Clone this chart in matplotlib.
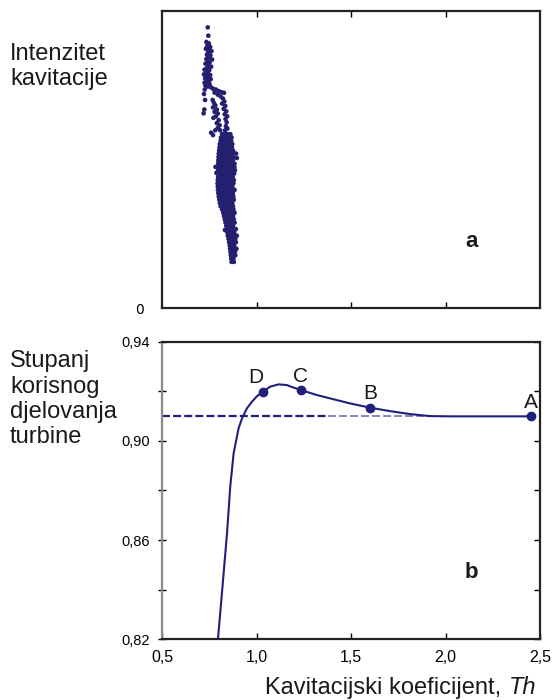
import matplotlib
matplotlib.use("Agg")
import matplotlib.pyplot as plt
import numpy as np

plt.rcParams['font.family'] = ['Liberation Sans', 'DejaVu Sans']

# --- panel a: cavitation intensity scatter ---
upper_x = [0.742, 0.745, 0.735, 0.748, 0.740, 0.755, 0.732, 0.750, 0.762, 0.744,
           0.738, 0.756, 0.748, 0.735, 0.765, 0.742, 0.752, 0.730, 0.746, 0.760,
           0.738, 0.725, 0.750, 0.735, 0.742, 0.722, 0.755, 0.732, 0.745, 0.728,
           0.758, 0.738, 0.748, 0.725, 0.736, 0.752, 0.730, 0.742, 0.760]
upper_y = [0.944, 0.916, 0.895, 0.890, 0.882, 0.878, 0.872, 0.868, 0.864, 0.860,
           0.852, 0.850, 0.843, 0.838, 0.836, 0.830, 0.826, 0.822, 0.818, 0.812,
           0.808, 0.802, 0.800, 0.795, 0.790, 0.786, 0.784, 0.780, 0.776, 0.772,
           0.770, 0.766, 0.762, 0.758, 0.754, 0.752, 0.748, 0.745, 0.742]

loop_x = [0.726, 0.722, 0.728, 0.724, 0.720,
          0.770, 0.785, 0.800, 0.815, 0.828, 0.778, 0.795, 0.810,
          0.822, 0.830, 0.818, 0.835, 0.826, 0.840, 0.832, 0.845, 0.836, 0.842,
          0.838, 0.846, 0.834,
          0.768, 0.775, 0.782, 0.770, 0.790, 0.778, 0.795, 0.786, 0.772, 0.800,
          0.790, 0.805, 0.795, 0.782, 0.760, 0.770, 0.808,
          0.783, 0.788, 0.892, 0.896, 0.833]
loop_y = [0.735, 0.720, 0.700, 0.668, 0.655,
          0.738, 0.735, 0.730, 0.726, 0.724, 0.725, 0.718, 0.712,
          0.705, 0.695, 0.688, 0.680, 0.670, 0.662, 0.652, 0.645, 0.636, 0.625,
          0.612, 0.604, 0.598,
          0.700, 0.690, 0.682, 0.675, 0.668, 0.660, 0.655, 0.645, 0.640, 0.632,
          0.622, 0.615, 0.606, 0.598, 0.590, 0.582, 0.598,
          0.475, 0.455, 0.520, 0.505, 0.263]

core_rows = [
    (0.585, [0.818, 0.828, 0.840, 0.852, 0.862]),
    (0.574, [0.812, 0.824, 0.836, 0.846, 0.858, 0.868]),
    (0.563, [0.810, 0.820, 0.832, 0.844, 0.855, 0.866]),
    (0.552, [0.806, 0.817, 0.829, 0.840, 0.851, 0.862, 0.872]),
    (0.541, [0.804, 0.815, 0.826, 0.838, 0.849, 0.860, 0.870]),
    (0.530, [0.802, 0.812, 0.824, 0.835, 0.846, 0.857, 0.868, 0.876]),
    (0.519, [0.800, 0.811, 0.822, 0.833, 0.844, 0.855, 0.866, 0.874]),
    (0.508, [0.799, 0.810, 0.821, 0.832, 0.843, 0.854, 0.865, 0.876]),
    (0.497, [0.798, 0.809, 0.820, 0.831, 0.842, 0.853, 0.864, 0.875]),
    (0.486, [0.797, 0.808, 0.819, 0.830, 0.841, 0.852, 0.863, 0.874, 0.884]),
    (0.475, [0.796, 0.807, 0.818, 0.829, 0.840, 0.851, 0.862, 0.873, 0.883]),
    (0.464, [0.797, 0.808, 0.819, 0.830, 0.841, 0.852, 0.863, 0.874, 0.886]),
    (0.453, [0.798, 0.809, 0.820, 0.831, 0.842, 0.853, 0.864, 0.875, 0.882]),
    (0.442, [0.797, 0.808, 0.819, 0.830, 0.841, 0.852, 0.863, 0.874]),
    (0.431, [0.795, 0.806, 0.817, 0.828, 0.839, 0.850, 0.861, 0.872, 0.880]),
    (0.420, [0.794, 0.805, 0.816, 0.827, 0.838, 0.849, 0.860, 0.871, 0.878]),
    (0.409, [0.795, 0.806, 0.817, 0.828, 0.839, 0.850, 0.861, 0.872]),
    (0.398, [0.796, 0.807, 0.818, 0.829, 0.840, 0.851, 0.862, 0.873, 0.884]),
    (0.387, [0.798, 0.809, 0.820, 0.831, 0.842, 0.853, 0.864, 0.875]),
    (0.376, [0.800, 0.811, 0.822, 0.833, 0.844, 0.855, 0.866, 0.877]),
    (0.365, [0.803, 0.814, 0.825, 0.836, 0.847, 0.858, 0.869, 0.880]),
    (0.354, [0.806, 0.817, 0.828, 0.839, 0.850, 0.861, 0.872]),
    (0.343, [0.810, 0.821, 0.832, 0.843, 0.854, 0.865, 0.876]),
    (0.332, [0.818, 0.830, 0.842, 0.854, 0.866, 0.878]),
    (0.321, [0.824, 0.836, 0.848, 0.860, 0.872, 0.884]),
    (0.310, [0.828, 0.840, 0.852, 0.864, 0.876]),
    (0.299, [0.832, 0.844, 0.856, 0.868, 0.880]),
    (0.288, [0.836, 0.848, 0.860, 0.872, 0.884]),
    (0.277, [0.840, 0.852, 0.864, 0.876]),
    (0.266, [0.843, 0.855, 0.867, 0.879, 0.891]),
    (0.255, [0.846, 0.858, 0.870, 0.882]),
    (0.244, [0.848, 0.860, 0.872, 0.884, 0.896]),
    (0.233, [0.852, 0.864, 0.876, 0.888]),
    (0.222, [0.855, 0.867, 0.879, 0.891]),
    (0.211, [0.858, 0.870, 0.882]),
    (0.200, [0.860, 0.872, 0.884, 0.894]),
    (0.189, [0.862, 0.874, 0.886]),
    (0.178, [0.864, 0.876, 0.888]),
    (0.167, [0.866, 0.878]),
    (0.156, [0.868, 0.880]),
]

# --- panel b: efficiency curve ---
curve_x = [0.796, 0.808, 0.826, 0.844, 0.861, 0.879, 0.893, 0.905, 0.923, 0.949,
           0.976, 1.002, 1.034, 1.073, 1.117, 1.161, 1.196, 1.235, 1.319, 1.407,
           1.496, 1.601, 1.707, 1.813, 1.919, 2.024, 2.451]
curve_y = [0.820, 0.8305, 0.8466, 0.8627, 0.8815, 0.8950, 0.9004, 0.9050, 0.9090, 0.9131,
           0.9158, 0.9180, 0.9198, 0.9219, 0.9228, 0.9225, 0.9215, 0.9205, 0.9185, 0.9168,
           0.9151, 0.9134, 0.9120, 0.9108, 0.9100, 0.9099, 0.9099]

point_labels = ['D', 'C', 'B', 'A']
point_x = [1.034, 1.235, 1.601, 2.451]
point_y = [0.9198, 0.9205, 0.9134, 0.9099]
ref_level = 0.91

x_ticks = [0.5, 1.0, 1.5, 2.0, 2.5]
x_ticklabels = ['0,5', '1,0', '1,5', '2,0', '2,5']
y_ticks = [0.82, 0.84, 0.86, 0.88, 0.90, 0.92, 0.94]
y_ticklabels = ['0,82', '', '0,86', '', '0,90', '', '0,94']

navy = '#1f1f7c'
dot_color = '#241f6e'
ink = '#1a1a1a'

fig = plt.figure(figsize=(5.58, 7.0), dpi=100)
W, H = 558.0, 700.0
ax_a = fig.add_axes([162 / W, 1 - 308.3 / H, 378 / W, 297.6 / H])
ax_b = fig.add_axes([162 / W, 1 - 639.3 / H, 378 / W, 297.6 / H])

# panel a
sx = list(upper_x) + list(loop_x)
sy = list(upper_y) + list(loop_y)
for yy, xs in core_rows:
    sx += xs
    sy += [yy] * len(xs)
ax_a.scatter(sx, sy, s=11, color=dot_color, edgecolors='none')
ax_a.set_xlim(0.5, 2.5)
ax_a.set_ylim(0, 1)
ax_a.set_xticks([1.0, 1.5, 2.0])
ax_a.set_xticklabels([])
ax_a.tick_params(axis='x', direction='in', top=True, bottom=True, length=4, width=1)
ax_a.set_yticks([0])
ax_a.set_yticklabels(['0'], fontsize=10, family=['DejaVu Sans'])
ax_a.tick_params(axis='y', length=0, pad=13)
for sp in ax_a.spines.values():
    sp.set_color('#222222')
    sp.set_linewidth(1.6)
fig.text(472 / W, 1 - 247 / H, 'a', fontsize=16, fontweight='bold', color=ink,
         ha='center', va='baseline')

# panel b
ax_b.plot([0.5, 1.38], [ref_level, ref_level], color=navy, lw=1.6, dashes=(3.6, 1.4))
ax_b.plot([1.38, 1.93], [ref_level, ref_level], color='#7d7bb8', lw=1.3, dashes=(4.4, 1.7))
ax_b.plot(curve_x, curve_y, color=navy, lw=1.5)
ax_b.plot(point_x, point_y, 'o', color=navy, ms=6, clip_on=False, zorder=5)
offsets = [(-5, 6), (0, 6), (0, 6), (0, 6)]
for lab, px, py, off in zip(point_labels, point_x, point_y, offsets):
    ax_b.annotate(lab, (px, py), xytext=off, textcoords='offset points',
                  ha='center', va='baseline', fontsize=15, color=ink)

ax_b.set_xlim(0.5, 2.5)
ax_b.set_ylim(0.82, 0.94)
ax_b.set_xticks(x_ticks)
ax_b.set_xticklabels(x_ticklabels, fontsize=11.5)
ax_b.tick_params(axis='x', direction='in', length=4, width=1, pad=8)
ax_b.set_yticks(y_ticks)
ax_b.set_yticklabels(y_ticklabels, fontsize=10.5)
ax_b.tick_params(axis='y', direction='inout', length=6, width=1, pad=6,
                 right=True, labelright=False)
for t in ax_b.yaxis.get_ticklines()[1::2]:
    t.set_marker(0)
    t.set_markersize(4)
for sp in ('top', 'bottom', 'right'):
    ax_b.spines[sp].set_color('#222222')
    ax_b.spines[sp].set_linewidth(1.6)
ax_b.spines['left'].set_color('#8a8a8a')
ax_b.spines['left'].set_linewidth(1.6)
fig.text(471 / W, 1 - 578 / H, 'b', fontsize=16, fontweight='bold', color=ink,
         ha='center', va='baseline')

# side labels (figure pixel coordinates, y measured from top)
side_lines = [('Intenzitet', 60), ('kavitacije', 85),
              ('Stupanj', 367), ('korisnog', 393), ('djelovanja', 418), ('turbine', 443)]
for txt, base in side_lines:
    fig.text(10 / W, 1 - base / H, txt, fontsize=17, color=ink,
             ha='left', va='baseline')

# x axis title: italic "Th" at the right, the rest placed just before it
th = fig.text(536 / W, 1 - 694 / H, 'Th', fontsize=17, style='italic',
              color=ink, ha='right', va='baseline')
fig.canvas.draw()
bb = th.get_window_extent(fig.canvas.get_renderer())
fig.text((bb.x0 - 1) / W, 1 - 694 / H, 'Kavitacijski koeficijent, ', fontsize=17,
         color=ink, ha='right', va='baseline')

fig.savefig('out.png', dpi=100)
